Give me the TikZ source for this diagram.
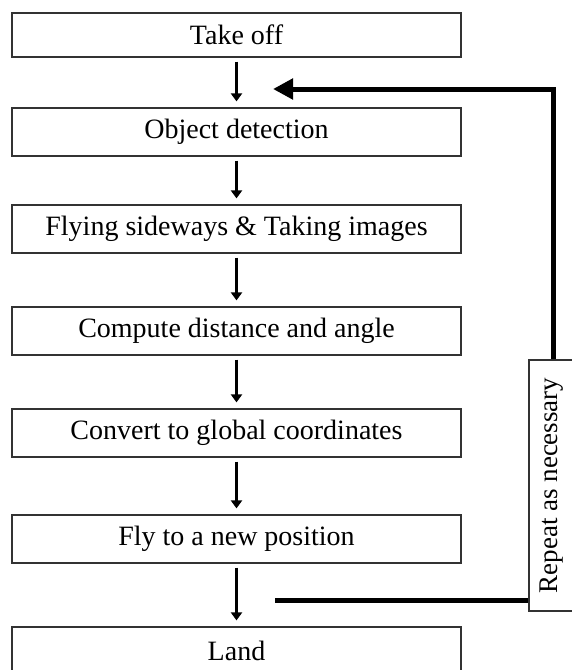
\documentclass[tikz,border=0pt]{standalone}
\usepackage{fontspec}
\setmainfont{Liberation Serif}
\usetikzlibrary{arrows.meta}
\begin{document}
\begin{tikzpicture}[x=1pt,y=-1pt,
    stepbox/.style={draw=black!80,line width=1.2pt,minimum width=449pt,minimum height=48pt,inner sep=0pt,font=\fontsize{28}{32}\selectfont},
    downarrow/.style={-{Triangle[length=8pt,width=11pt]},line width=3.6pt,shorten <=4pt,shorten >=6pt},
    loopline/.style={line width=5pt},
    loopbox/.style={draw=black!80,line width=1.2pt,fill=white,minimum width=251pt,minimum height=46pt,inner sep=0pt,font=\fontsize{27}{31}\selectfont}]
  \def\cx{236.5};
  \useasboundingbox (0,0) rectangle (571,670);

  \node[stepbox,minimum height=44pt] (takeoff) at (\cx,35) {Take off};
  \node[stepbox] (detect) at (\cx,132) {Object detection};
  \node[stepbox] (sideways) at (\cx,229) {Flying sideways \& Taking images};
  \node[stepbox] (compute) at (\cx,331) {Compute distance and angle};
  \node[stepbox] (convert) at (\cx,433) {Convert to global coordinates};
  \node[stepbox] (newpos) at (\cx,539) {Fly to a new position};
  \node[stepbox] (land) at (\cx,651) {Land};

  \draw[downarrow] (takeoff) -- (detect);
  \draw[downarrow] (detect) -- (sideways);
  \draw[downarrow] (sideways) -- (compute);
  \draw[downarrow] (compute) -- (convert);
  \draw[downarrow] (convert) -- (newpos);
  \draw[downarrow] (newpos) -- (land);

  %loop back
  \node[loopbox,rotate=90] (repeat) at (552,485.5) {Repeat as necessary};
  \coordinate (backtip) at (273,89);
  \coordinate (backstart) at (275,600);
  \coordinate (backturn) at (553,89);
  \draw[loopline] (backstart) -- (backstart -| repeat.north);
  \draw[loopline,-{Triangle[length=20pt,width=20pt]}] (backturn |- repeat.east) -- (backturn) -- (backtip);
\end{tikzpicture}
\end{document}
